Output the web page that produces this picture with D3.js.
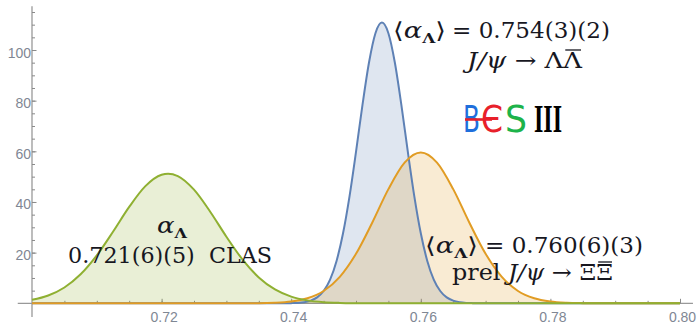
<!DOCTYPE html>
<html>
<head>
<meta charset="utf-8">
<script src="https://cdn.jsdelivr.net/npm/d3@7"></script>
<style>
  body { margin: 0; background: #fff; }
  svg { display: block; }
  .axis text { font-family: "Liberation Sans", Arial, sans-serif; font-size: 14px; fill: #7f8794; }
  .axis line { stroke: #8a8a8a; stroke-width: 1; }
  .axis path { display: none; }
  .note { font-family: "DejaVu Serif", serif; fill: #17171f; white-space: pre; }
  .logo { font-family: "DejaVu Sans", sans-serif; }
</style>
</head>
<body>
<svg id="chart" width="699" height="324"></svg>
<script>
// values (probability density vs alpha_Lambda)
const clasX = [0.700, 0.7025, 0.705, 0.7075, 0.710, 0.7125, 0.715, 0.7175, 0.720, 0.721, 0.7225, 0.725,
  0.7275, 0.730, 0.7325, 0.735, 0.7375, 0.740, 0.7425, 0.745, 0.7475, 0.750, 0.7525, 0.800];
const clasY = [1.36, 3.07, 6.24, 11.44, 18.92, 28.25, 38.05, 46.25, 50.73, 51.15, 50.22, 44.85,
  36.15, 26.29, 17.25, 10.22, 5.46, 2.63, 1.15, 0.45, 0.16, 0.05, 0.01, 0];

const lambdaX = [0.700, 0.739, 0.740, 0.741, 0.742, 0.743, 0.744, 0.745, 0.746, 0.747, 0.748, 0.749, 0.750,
  0.751, 0.752, 0.753, 0.754, 0.755, 0.756, 0.757, 0.758, 0.759, 0.760, 0.761, 0.762, 0.763, 0.764,
  0.765, 0.766, 0.767, 0.768, 0.769, 0.800];
const lambdaY = [0, 0.02, 0.06, 0.16, 0.43, 1.04, 2.34, 4.87, 9.38, 16.74, 27.64, 42.24, 59.78,
  78.32, 94.97, 106.63, 110.82, 106.63, 94.97, 78.32, 59.78, 42.24, 27.64, 16.74, 9.38, 4.87, 2.34,
  1.04, 0.43, 0.16, 0.06, 0.02, 0];

const xiX = [0.700, 0.735, 0.7375, 0.740, 0.7425, 0.745, 0.7475, 0.750, 0.7525, 0.755, 0.7575, 0.760,
  0.7625, 0.765, 0.7675, 0.770, 0.7725, 0.775, 0.7775, 0.780, 0.7825, 0.785, 0.7875, 0.800];
const xiY = [0, 0.06, 0.21, 0.69, 1.97, 4.86, 10.45, 19.55, 31.82, 45.07, 55.54, 59.54,
  55.54, 45.07, 31.82, 19.55, 10.45, 4.86, 1.97, 0.69, 0.21, 0.06, 0.01, 0];

const xMajor = [0.72, 0.74, 0.76, 0.78, 0.80];
const xMinor = d3.range(0.705, 0.8001, 0.005);
const yMajor = [20, 40, 60, 80, 100];
const yMinor = d3.range(5, 116, 5);

const colors = { clas: "#8fb032", lambda: "#5e81b5", xi: "#e19c24" };

const svg = d3.select("#chart");
const x = d3.scaleLinear().domain([0.70, 0.80]).range([32, 680]);
const y = d3.scaleLinear().domain([0, 100]).range([303.3, 50]);

// axes (Mathematica style: ticks pointing inward)
const gx = svg.append("g").attr("class", "axis").attr("transform", `translate(0,${y(0)})`);
gx.append("line").attr("x1", x(0.6978)).attr("x2", x(0.802)).style("stroke", "#999").style("stroke-width", 1.3);
gx.append("g").call(d3.axisBottom(x).tickValues(xMinor).tickSize(-2.5).tickFormat(""));
gx.append("g").call(d3.axisBottom(x).tickValues(xMajor).tickSize(-4.5).tickPadding(8.5).tickFormat(d3.format(".2f")))
  .selectAll("text").attr("x", 2);

const gy = svg.append("g").attr("class", "axis").attr("transform", `translate(${x(0.70)},0)`);
gy.append("line").attr("y1", y(-5.4)).attr("y2", y(117.3)).style("stroke", "#999").style("stroke-width", 1.3);
gy.append("g").call(d3.axisLeft(y).tickValues(yMinor).tickSize(-3).tickFormat(""));
gy.append("g").call(d3.axisLeft(y).tickValues(yMajor).tickSize(-4.5).tickPadding(1))
  .selectAll("text").attr("dy", "0.5em");

// curves
const series = [
  { key: "lambda", xs: lambdaX, ys: lambdaY },
  { key: "xi", xs: xiX, ys: xiY },
  { key: "clas", xs: clasX, ys: clasY }
];
const area = d3.area().x(d => x(d[0])).y0(y(0)).y1(d => y(d[1])).curve(d3.curveMonotoneX);
const line = d3.line().x(d => x(d[0])).y(d => y(d[1])).curve(d3.curveMonotoneX);

// fillings first, lines on top
series.forEach(s => {
  svg.append("path").datum(d3.zip(s.xs, s.ys))
    .attr("d", area).attr("fill", colors[s.key]).attr("fill-opacity", 0.2);
});
series.forEach(s => {
  svg.append("path").datum(d3.zip(s.xs, s.ys))
    .attr("d", line).attr("fill", "none").attr("stroke", colors[s.key])
    .attr("stroke-width", 2).attr("stroke-linejoin", "round");
});

// annotations
function alphaLambda(t, brackets, size) {
  if (brackets) t.append("tspan").text("\u27E8");
  t.append("tspan").style("font-style", "italic").text("\u03B1");
  t.append("tspan").attr("font-size", size * 0.62).attr("dy", size * 0.24).style("font-weight", "bold").text("\u039B");
  if (brackets) t.append("tspan").attr("font-size", size).attr("dy", -size * 0.24).text("\u27E9");
}
function overlineLast(t) {
  const node = t.node();
  const n = node.getNumberOfChars();
  const b = node.getExtentOfChar(n - 1);
  svg.append("line").attr("x1", b.x + 2).attr("x2", b.x + b.width - 1)
    .attr("y1", b.y + 2).attr("y2", b.y + 2)
    .attr("stroke", "#17171f").attr("stroke-width", 1.3);
}

// BESIII lambda result
let t = svg.append("text").attr("class", "note").attr("x", 393).attr("y", 38).attr("font-size", 22)
  .attr("textLength", 53).attr("lengthAdjust", "spacingAndGlyphs");
alphaLambda(t, true, 22);
svg.append("text").attr("class", "note").attr("x", 452).attr("y", 38).attr("font-size", 22)
  .attr("textLength", 158).attr("lengthAdjust", "spacingAndGlyphs").text("= 0.754(3)(2)");
t = svg.append("text").attr("class", "note").attr("x", 467).attr("y", 68).attr("font-size", 22)
  .attr("textLength", 115).attr("lengthAdjust", "spacingAndGlyphs");
t.append("tspan").style("font-style", "italic").text("J/\u03C8");
t.append("tspan").text(" \u2192 \u039B\u039B");
overlineLast(t);

// BESIII Xi preliminary result
t = svg.append("text").attr("class", "note").attr("x", 425).attr("y", 253).attr("font-size", 22)
  .attr("textLength", 53).attr("lengthAdjust", "spacingAndGlyphs");
alphaLambda(t, true, 22);
svg.append("text").attr("class", "note").attr("x", 485).attr("y", 253).attr("font-size", 22)
  .attr("textLength", 158).attr("lengthAdjust", "spacingAndGlyphs").text("= 0.760(6)(3)");
t = svg.append("text").attr("class", "note").attr("x", 452).attr("y", 280).attr("font-size", 22)
  .attr("textLength", 161).attr("lengthAdjust", "spacingAndGlyphs");
t.append("tspan").text("prel ");
t.append("tspan").style("font-style", "italic").text("J/\u03C8");
t.append("tspan").text(" \u2192 \u039E\u039E");
overlineLast(t);

// CLAS result
t = svg.append("text").attr("class", "note").attr("x", 157).attr("y", 233).attr("font-size", 22)
  .attr("textLength", 30).attr("lengthAdjust", "spacingAndGlyphs");
alphaLambda(t, false, 22);
svg.append("text").attr("class", "note").attr("x", 68).attr("y", 263).attr("font-size", 22)
  .attr("textLength", 204).attr("lengthAdjust", "spacingAndGlyphs").text("0.721(6)(5)  CLAS");

// BESIII logo
const logo = svg.append("g").attr("class", "logo");
const logoLetters = [
  { ch: "B", x0: 463, w: 17, c: "#1f6fdc" },
  { ch: "\u0404", x0: 481, w: 22, c: "#e8202a" },
  { ch: "S", x0: 505, w: 22, c: "#1db34a" }
];
logoLetters.forEach(l => {
  logo.append("text").attr("x", l.x0).attr("y", 132).attr("font-size", 37)
    .attr("textLength", l.w).attr("lengthAdjust", "spacingAndGlyphs")
    .attr("fill", l.c).text(l.ch);
});
logo.append("text").attr("x", 534).attr("y", 132).attr("font-size", 40)
  .style("font-family", "'Liberation Serif', serif").style("font-weight", "bold")
  .attr("textLength", 28).attr("lengthAdjust", "spacingAndGlyphs")
  .attr("fill", "#000").text("III");
logo.append("line").attr("x1", 465).attr("x2", 492).attr("y1", 119.5).attr("y2", 119.5)
  .attr("stroke", "#e8202a").attr("stroke-width", 2.6);
</script>
</body>
</html>
